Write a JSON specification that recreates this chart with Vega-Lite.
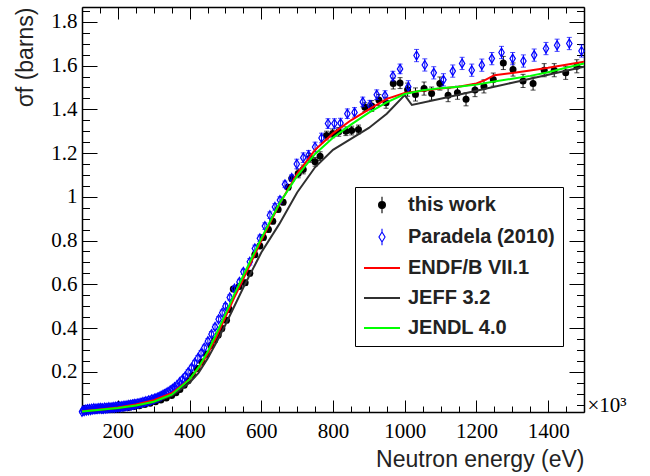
{
  "$schema": "https://vega.github.io/schema/vega-lite/v6.json",
  "width": 502,
  "height": 405,
  "autosize": {"type": "none"},
  "padding": {"left": 82, "top": 7, "right": 66, "bottom": 64},
  "background": "white",
  "config": {"view": {"stroke": null}},
  "datasets": {
    "work": [
      {"E":110,"s":0.021,"err":0.004,"series":"this work"},{"E":125,"s":0.023,"err":0.004,"series":"this work"},{"E":140,"s":0.025,"err":0.004,"series":"this work"},{"E":155,"s":0.026,"err":0.004,"series":"this work"},{"E":170,"s":0.028,"err":0.004,"series":"this work"},{"E":185,"s":0.030,"err":0.004,"series":"this work"},{"E":200,"s":0.032,"err":0.004,"series":"this work"},{"E":215,"s":0.034,"err":0.004,"series":"this work"},{"E":230,"s":0.037,"err":0.004,"series":"this work"},{"E":245,"s":0.041,"err":0.004,"series":"this work"},{"E":260,"s":0.045,"err":0.004,"series":"this work"},{"E":275,"s":0.050,"err":0.004,"series":"this work"},{"E":290,"s":0.056,"err":0.004,"series":"this work"},{"E":305,"s":0.063,"err":0.004,"series":"this work"},{"E":320,"s":0.071,"err":0.004,"series":"this work"},{"E":335,"s":0.080,"err":0.004,"series":"this work"},{"E":350,"s":0.092,"err":0.004,"series":"this work"},{"E":362,"s":0.104,"err":0.004,"series":"this work"},{"E":373,"s":0.119,"err":0.004,"series":"this work"},{"E":385,"s":0.138,"err":0.004,"series":"this work"},{"E":396,"s":0.159,"err":0.004,"series":"this work"},
      {"E":408,"s":0.185,"err":0.012,"series":"this work"},{"E":421,"s":0.215,"err":0.012,"series":"this work"},{"E":434,"s":0.245,"err":0.012,"series":"this work"},{"E":447,"s":0.28,"err":0.012,"series":"this work"},{"E":460,"s":0.32,"err":0.012,"series":"this work"},{"E":470,"s":0.345,"err":0.012,"series":"this work"},{"E":480,"s":0.368,"err":0.012,"series":"this work"},{"E":490,"s":0.398,"err":0.012,"series":"this work"},{"E":503,"s":0.436,"err":0.012,"series":"this work"},{"E":511,"s":0.485,"err":0.012,"series":"this work"},{"E":522,"s":0.578,"err":0.012,"series":"this work"},{"E":538,"s":0.59,"err":0.012,"series":"this work"},{"E":555,"s":0.607,"err":0.012,"series":"this work"},{"E":568,"s":0.65,"err":0.012,"series":"this work"},{"E":582,"s":0.735,"err":0.012,"series":"this work"},{"E":596,"s":0.775,"err":0.012,"series":"this work"},{"E":606,"s":0.814,"err":0.012,"series":"this work"},{"E":620,"s":0.85,"err":0.012,"series":"this work"},{"E":632,"s":0.888,"err":0.012,"series":"this work"},{"E":647,"s":0.942,"err":0.012,"series":"this work"},{"E":661,"s":0.975,"err":0.012,"series":"this work"},{"E":675,"s":1.044,"err":0.012,"series":"this work"},{"E":685,"s":1.084,"err":0.012,"series":"this work"},
      {"E":703,"s":1.107,"err":0.02,"series":"this work"},{"E":717,"s":1.125,"err":0.02,"series":"this work"},{"E":736,"s":1.178,"err":0.02,"series":"this work"},{"E":750,"s":1.16,"err":0.02,"series":"this work"},{"E":764,"s":1.186,"err":0.02,"series":"this work"},{"E":782,"s":1.28,"err":0.02,"series":"this work"},{"E":799,"s":1.29,"err":0.02,"series":"this work"},{"E":816,"s":1.297,"err":0.02,"series":"this work"},{"E":836,"s":1.30,"err":0.02,"series":"this work"},{"E":852,"s":1.303,"err":0.02,"series":"this work"},{"E":871,"s":1.308,"err":0.02,"series":"this work"},{"E":889,"s":1.41,"err":0.02,"series":"this work"},
      {"E":908,"s":1.415,"err":0.025,"series":"this work"},{"E":928,"s":1.443,"err":0.025,"series":"this work"},{"E":948,"s":1.43,"err":0.025,"series":"this work"},{"E":968,"s":1.518,"err":0.025,"series":"this work"},{"E":987,"s":1.52,"err":0.025,"series":"this work"},
      {"E":1008,"s":1.49,"err":0.03,"series":"this work"},{"E":1030,"s":1.468,"err":0.03,"series":"this work"},{"E":1054,"s":1.495,"err":0.03,"series":"this work"},{"E":1075,"s":1.472,"err":0.03,"series":"this work"},{"E":1098,"s":1.518,"err":0.03,"series":"this work"},{"E":1121,"s":1.465,"err":0.03,"series":"this work"},{"E":1147,"s":1.476,"err":0.03,"series":"this work"},{"E":1171,"s":1.446,"err":0.03,"series":"this work"},{"E":1196,"s":1.488,"err":0.03,"series":"this work"},{"E":1221,"s":1.505,"err":0.03,"series":"this work"},{"E":1247,"s":1.536,"err":0.03,"series":"this work"},{"E":1275,"s":1.612,"err":0.03,"series":"this work"},{"E":1302,"s":1.582,"err":0.03,"series":"this work"},{"E":1330,"s":1.53,"err":0.03,"series":"this work"},{"E":1358,"s":1.518,"err":0.03,"series":"this work"},{"E":1389,"s":1.579,"err":0.03,"series":"this work"},{"E":1417,"s":1.579,"err":0.03,"series":"this work"},{"E":1449,"s":1.567,"err":0.03,"series":"this work"},{"E":1480,"s":1.597,"err":0.03,"series":"this work"}
    ],
    "para": [
      {"E":100,"s":0.017,"err":0.007,"series":"Paradela (2010)"},{"E":103,"s":0.024,"err":0.007,"series":"Paradela (2010)"},{"E":106,"s":0.020,"err":0.007,"series":"Paradela (2010)"},{"E":109,"s":0.027,"err":0.007,"series":"Paradela (2010)"},{"E":112,"s":0.022,"err":0.007,"series":"Paradela (2010)"},{"E":115,"s":0.029,"err":0.007,"series":"Paradela (2010)"},{"E":118,"s":0.024,"err":0.007,"series":"Paradela (2010)"},{"E":121,"s":0.030,"err":0.007,"series":"Paradela (2010)"},{"E":124,"s":0.025,"err":0.007,"series":"Paradela (2010)"},{"E":127,"s":0.031,"err":0.007,"series":"Paradela (2010)"},{"E":130,"s":0.027,"err":0.007,"series":"Paradela (2010)"},{"E":133,"s":0.033,"err":0.007,"series":"Paradela (2010)"},{"E":136,"s":0.028,"err":0.007,"series":"Paradela (2010)"},{"E":139,"s":0.032,"err":0.007,"series":"Paradela (2010)"},{"E":142,"s":0.029,"err":0.007,"series":"Paradela (2010)"},{"E":145,"s":0.034,"err":0.007,"series":"Paradela (2010)"},{"E":148,"s":0.030,"err":0.007,"series":"Paradela (2010)"},{"E":151,"s":0.035,"err":0.007,"series":"Paradela (2010)"},{"E":154,"s":0.031,"err":0.007,"series":"Paradela (2010)"},{"E":157,"s":0.033,"err":0.007,"series":"Paradela (2010)"},{"E":160,"s":0.030,"err":0.007,"series":"Paradela (2010)"},{"E":163,"s":0.036,"err":0.007,"series":"Paradela (2010)"},{"E":166,"s":0.032,"err":0.007,"series":"Paradela (2010)"},{"E":169,"s":0.035,"err":0.007,"series":"Paradela (2010)"},{"E":172,"s":0.033,"err":0.007,"series":"Paradela (2010)"},{"E":175,"s":0.038,"err":0.007,"series":"Paradela (2010)"},{"E":178,"s":0.034,"err":0.007,"series":"Paradela (2010)"},{"E":181,"s":0.037,"err":0.007,"series":"Paradela (2010)"},{"E":184,"s":0.035,"err":0.007,"series":"Paradela (2010)"},{"E":187,"s":0.039,"err":0.007,"series":"Paradela (2010)"},{"E":190,"s":0.035,"err":0.007,"series":"Paradela (2010)"},{"E":193,"s":0.040,"err":0.007,"series":"Paradela (2010)"},{"E":196,"s":0.037,"err":0.007,"series":"Paradela (2010)"},{"E":199,"s":0.041,"err":0.007,"series":"Paradela (2010)"},{"E":202,"s":0.038,"err":0.007,"series":"Paradela (2010)"},{"E":205,"s":0.042,"err":0.007,"series":"Paradela (2010)"},{"E":208,"s":0.039,"err":0.007,"series":"Paradela (2010)"},{"E":211,"s":0.043,"err":0.007,"series":"Paradela (2010)"},{"E":214,"s":0.040,"err":0.007,"series":"Paradela (2010)"},{"E":217,"s":0.045,"err":0.007,"series":"Paradela (2010)"},{"E":220,"s":0.042,"err":0.007,"series":"Paradela (2010)"},{"E":223,"s":0.046,"err":0.007,"series":"Paradela (2010)"},{"E":226,"s":0.043,"err":0.007,"series":"Paradela (2010)"},{"E":229,"s":0.048,"err":0.007,"series":"Paradela (2010)"},{"E":232,"s":0.045,"err":0.007,"series":"Paradela (2010)"},{"E":235,"s":0.049,"err":0.007,"series":"Paradela (2010)"},{"E":238,"s":0.047,"err":0.007,"series":"Paradela (2010)"},{"E":241,"s":0.051,"err":0.007,"series":"Paradela (2010)"},{"E":244,"s":0.049,"err":0.007,"series":"Paradela (2010)"},{"E":247,"s":0.053,"err":0.007,"series":"Paradela (2010)"},{"E":250,"s":0.051,"err":0.007,"series":"Paradela (2010)"},{"E":254,"s":0.055,"err":0.007,"series":"Paradela (2010)"},{"E":258,"s":0.054,"err":0.007,"series":"Paradela (2010)"},{"E":262,"s":0.058,"err":0.007,"series":"Paradela (2010)"},{"E":266,"s":0.057,"err":0.007,"series":"Paradela (2010)"},{"E":270,"s":0.062,"err":0.007,"series":"Paradela (2010)"},{"E":274,"s":0.061,"err":0.007,"series":"Paradela (2010)"},{"E":278,"s":0.065,"err":0.007,"series":"Paradela (2010)"},{"E":282,"s":0.064,"err":0.007,"series":"Paradela (2010)"},{"E":286,"s":0.069,"err":0.007,"series":"Paradela (2010)"},{"E":290,"s":0.068,"err":0.007,"series":"Paradela (2010)"},{"E":294,"s":0.073,"err":0.007,"series":"Paradela (2010)"},{"E":298,"s":0.073,"err":0.007,"series":"Paradela (2010)"},{"E":302,"s":0.077,"err":0.007,"series":"Paradela (2010)"},{"E":306,"s":0.078,"err":0.007,"series":"Paradela (2010)"},{"E":310,"s":0.082,"err":0.007,"series":"Paradela (2010)"},{"E":314,"s":0.083,"err":0.007,"series":"Paradela (2010)"},{"E":318,"s":0.088,"err":0.007,"series":"Paradela (2010)"},{"E":322,"s":0.090,"err":0.007,"series":"Paradela (2010)"},{"E":326,"s":0.095,"err":0.007,"series":"Paradela (2010)"},{"E":330,"s":0.098,"err":0.007,"series":"Paradela (2010)"},{"E":335,"s":0.103,"err":0.007,"series":"Paradela (2010)"},{"E":340,"s":0.108,"err":0.007,"series":"Paradela (2010)"},{"E":346,"s":0.115,"err":0.007,"series":"Paradela (2010)"},{"E":352,"s":0.122,"err":0.007,"series":"Paradela (2010)"},{"E":358,"s":0.130,"err":0.007,"series":"Paradela (2010)"},{"E":365,"s":0.140,"err":0.007,"series":"Paradela (2010)"},{"E":372,"s":0.152,"err":0.007,"series":"Paradela (2010)"},
      {"E":380,"s":0.165,"err":0.012,"series":"Paradela (2010)"},{"E":388,"s":0.18,"err":0.012,"series":"Paradela (2010)"},{"E":396,"s":0.198,"err":0.012,"series":"Paradela (2010)"},{"E":405,"s":0.218,"err":0.012,"series":"Paradela (2010)"},{"E":414,"s":0.24,"err":0.012,"series":"Paradela (2010)"},{"E":423,"s":0.262,"err":0.012,"series":"Paradela (2010)"},{"E":432,"s":0.285,"err":0.012,"series":"Paradela (2010)"},{"E":441,"s":0.31,"err":0.012,"series":"Paradela (2010)"},{"E":451,"s":0.34,"err":0.012,"series":"Paradela (2010)"},{"E":461,"s":0.372,"err":0.012,"series":"Paradela (2010)"},{"E":471,"s":0.405,"err":0.012,"series":"Paradela (2010)"},{"E":481,"s":0.44,"err":0.012,"series":"Paradela (2010)"},{"E":491,"s":0.47,"err":0.012,"series":"Paradela (2010)"},{"E":500,"s":0.50,"err":0.012,"series":"Paradela (2010)"},{"E":512,"s":0.54,"err":0.012,"series":"Paradela (2010)"},{"E":525,"s":0.58,"err":0.012,"series":"Paradela (2010)"},{"E":539,"s":0.611,"err":0.012,"series":"Paradela (2010)"},{"E":550,"s":0.657,"err":0.012,"series":"Paradela (2010)"},{"E":568,"s":0.703,"err":0.015,"series":"Paradela (2010)"},{"E":582,"s":0.764,"err":0.015,"series":"Paradela (2010)"},{"E":596,"s":0.81,"err":0.015,"series":"Paradela (2010)"},{"E":610,"s":0.866,"err":0.015,"series":"Paradela (2010)"},{"E":624,"s":0.916,"err":0.015,"series":"Paradela (2010)"},{"E":638,"s":0.954,"err":0.015,"series":"Paradela (2010)"},{"E":652,"s":0.985,"err":0.015,"series":"Paradela (2010)"},{"E":666,"s":1.057,"err":0.015,"series":"Paradela (2010)"},{"E":685,"s":1.086,"err":0.015,"series":"Paradela (2010)"},
      {"E":699,"s":1.15,"err":0.022,"series":"Paradela (2010)"},{"E":717,"s":1.179,"err":0.022,"series":"Paradela (2010)"},{"E":732,"s":1.19,"err":0.022,"series":"Paradela (2010)"},{"E":750,"s":1.228,"err":0.022,"series":"Paradela (2010)"},{"E":768,"s":1.269,"err":0.022,"series":"Paradela (2010)"},{"E":786,"s":1.335,"err":0.022,"series":"Paradela (2010)"},{"E":804,"s":1.335,"err":0.022,"series":"Paradela (2010)"},{"E":821,"s":1.337,"err":0.022,"series":"Paradela (2010)"},{"E":840,"s":1.38,"err":0.022,"series":"Paradela (2010)"},{"E":860,"s":1.386,"err":0.022,"series":"Paradela (2010)"},{"E":883,"s":1.434,"err":0.022,"series":"Paradela (2010)"},{"E":903,"s":1.419,"err":0.022,"series":"Paradela (2010)"},{"E":922,"s":1.467,"err":0.022,"series":"Paradela (2010)"},{"E":945,"s":1.463,"err":0.022,"series":"Paradela (2010)"},{"E":967,"s":1.552,"err":0.022,"series":"Paradela (2010)"},{"E":987,"s":1.585,"err":0.022,"series":"Paradela (2010)"},
      {"E":1010,"s":1.503,"err":0.028,"series":"Paradela (2010)"},{"E":1033,"s":1.646,"err":0.028,"series":"Paradela (2010)"},{"E":1056,"s":1.603,"err":0.028,"series":"Paradela (2010)"},{"E":1081,"s":1.567,"err":0.028,"series":"Paradela (2010)"},{"E":1108,"s":1.535,"err":0.028,"series":"Paradela (2010)"},{"E":1134,"s":1.575,"err":0.028,"series":"Paradela (2010)"},{"E":1160,"s":1.61,"err":0.028,"series":"Paradela (2010)"},{"E":1187,"s":1.579,"err":0.028,"series":"Paradela (2010)"},{"E":1215,"s":1.602,"err":0.028,"series":"Paradela (2010)"},{"E":1243,"s":1.632,"err":0.028,"series":"Paradela (2010)"},{"E":1270,"s":1.66,"err":0.028,"series":"Paradela (2010)"},{"E":1301,"s":1.632,"err":0.028,"series":"Paradela (2010)"},{"E":1331,"s":1.621,"err":0.028,"series":"Paradela (2010)"},{"E":1361,"s":1.648,"err":0.028,"series":"Paradela (2010)"},{"E":1394,"s":1.678,"err":0.028,"series":"Paradela (2010)"},{"E":1425,"s":1.693,"err":0.028,"series":"Paradela (2010)"},{"E":1459,"s":1.701,"err":0.028,"series":"Paradela (2010)"},{"E":1493,"s":1.667,"err":0.028,"series":"Paradela (2010)"}
    ],
    "curves": [
      {"E":100,"s":0.018,"series":"JEFF 3.2"},{"E":150,"s":0.025,"series":"JEFF 3.2"},{"E":200,"s":0.033,"series":"JEFF 3.2"},{"E":250,"s":0.045,"series":"JEFF 3.2"},{"E":300,"s":0.062,"series":"JEFF 3.2"},{"E":350,"s":0.09,"series":"JEFF 3.2"},{"E":400,"s":0.15,"series":"JEFF 3.2"},{"E":425,"s":0.195,"series":"JEFF 3.2"},{"E":450,"s":0.26,"series":"JEFF 3.2"},{"E":475,"s":0.335,"series":"JEFF 3.2"},{"E":500,"s":0.415,"series":"JEFF 3.2"},{"E":550,"s":0.585,"series":"JEFF 3.2"},{"E":600,"s":0.745,"series":"JEFF 3.2"},{"E":650,"s":0.875,"series":"JEFF 3.2"},{"E":700,"s":1.02,"series":"JEFF 3.2"},{"E":750,"s":1.135,"series":"JEFF 3.2"},{"E":800,"s":1.215,"series":"JEFF 3.2"},{"E":850,"s":1.265,"series":"JEFF 3.2"},{"E":900,"s":1.315,"series":"JEFF 3.2"},{"E":950,"s":1.38,"series":"JEFF 3.2"},{"E":1000,"s":1.465,"series":"JEFF 3.2"},{"E":1020,"s":1.42,"series":"JEFF 3.2"},{"E":1100,"s":1.448,"series":"JEFF 3.2"},{"E":1200,"s":1.485,"series":"JEFF 3.2"},{"E":1300,"s":1.522,"series":"JEFF 3.2"},{"E":1400,"s":1.558,"series":"JEFF 3.2"},{"E":1500,"s":1.595,"series":"JEFF 3.2"},
      {"E":100,"s":0.02,"series":"ENDF/B VII.1"},{"E":150,"s":0.028,"series":"ENDF/B VII.1"},{"E":200,"s":0.037,"series":"ENDF/B VII.1"},{"E":250,"s":0.05,"series":"ENDF/B VII.1"},{"E":300,"s":0.07,"series":"ENDF/B VII.1"},{"E":350,"s":0.102,"series":"ENDF/B VII.1"},{"E":400,"s":0.165,"series":"ENDF/B VII.1"},{"E":425,"s":0.215,"series":"ENDF/B VII.1"},{"E":450,"s":0.28,"series":"ENDF/B VII.1"},{"E":475,"s":0.36,"series":"ENDF/B VII.1"},{"E":500,"s":0.45,"series":"ENDF/B VII.1"},{"E":525,"s":0.54,"series":"ENDF/B VII.1"},{"E":550,"s":0.625,"series":"ENDF/B VII.1"},{"E":600,"s":0.80,"series":"ENDF/B VII.1"},{"E":650,"s":0.965,"series":"ENDF/B VII.1"},{"E":700,"s":1.105,"series":"ENDF/B VII.1"},{"E":750,"s":1.215,"series":"ENDF/B VII.1"},{"E":800,"s":1.29,"series":"ENDF/B VII.1"},{"E":850,"s":1.35,"series":"ENDF/B VII.1"},{"E":900,"s":1.40,"series":"ENDF/B VII.1"},{"E":950,"s":1.448,"series":"ENDF/B VII.1"},{"E":1000,"s":1.475,"series":"ENDF/B VII.1"},{"E":1050,"s":1.485,"series":"ENDF/B VII.1"},{"E":1100,"s":1.495,"series":"ENDF/B VII.1"},{"E":1150,"s":1.503,"series":"ENDF/B VII.1"},{"E":1200,"s":1.518,"series":"ENDF/B VII.1"},{"E":1225,"s":1.535,"series":"ENDF/B VII.1"},{"E":1250,"s":1.556,"series":"ENDF/B VII.1"},{"E":1300,"s":1.566,"series":"ENDF/B VII.1"},{"E":1350,"s":1.578,"series":"ENDF/B VII.1"},{"E":1400,"s":1.59,"series":"ENDF/B VII.1"},{"E":1450,"s":1.604,"series":"ENDF/B VII.1"},{"E":1500,"s":1.618,"series":"ENDF/B VII.1"},
      {"E":100,"s":0.018,"series":"JENDL 4.0"},{"E":150,"s":0.026,"series":"JENDL 4.0"},{"E":200,"s":0.034,"series":"JENDL 4.0"},{"E":250,"s":0.046,"series":"JENDL 4.0"},{"E":300,"s":0.063,"series":"JENDL 4.0"},{"E":350,"s":0.095,"series":"JENDL 4.0"},{"E":400,"s":0.165,"series":"JENDL 4.0"},{"E":425,"s":0.22,"series":"JENDL 4.0"},{"E":450,"s":0.29,"series":"JENDL 4.0"},{"E":475,"s":0.375,"series":"JENDL 4.0"},{"E":500,"s":0.465,"series":"JENDL 4.0"},{"E":525,"s":0.555,"series":"JENDL 4.0"},{"E":550,"s":0.64,"series":"JENDL 4.0"},{"E":600,"s":0.81,"series":"JENDL 4.0"},{"E":650,"s":0.968,"series":"JENDL 4.0"},{"E":700,"s":1.095,"series":"JENDL 4.0"},{"E":750,"s":1.196,"series":"JENDL 4.0"},{"E":800,"s":1.27,"series":"JENDL 4.0"},{"E":850,"s":1.33,"series":"JENDL 4.0"},{"E":900,"s":1.385,"series":"JENDL 4.0"},{"E":950,"s":1.432,"series":"JENDL 4.0"},{"E":1000,"s":1.47,"series":"JENDL 4.0"},{"E":1050,"s":1.487,"series":"JENDL 4.0"},{"E":1100,"s":1.497,"series":"JENDL 4.0"},{"E":1150,"s":1.503,"series":"JENDL 4.0"},{"E":1200,"s":1.513,"series":"JENDL 4.0"},{"E":1250,"s":1.527,"series":"JENDL 4.0"},{"E":1300,"s":1.54,"series":"JENDL 4.0"},{"E":1350,"s":1.553,"series":"JENDL 4.0"},{"E":1400,"s":1.57,"series":"JENDL 4.0"},{"E":1450,"s":1.59,"series":"JENDL 4.0"},{"E":1500,"s":1.61,"series":"JENDL 4.0"}
    ]
  },
  "resolve": {"axis": {"x": "independent", "y": "independent"}},
  "layer": [
    {
      "data": {"name": "work"},
      "mark": {"type": "errorbar", "ticks": {"size": 5}, "rule": {"strokeWidth": 1}},
      "encoding": {
        "x": {"field": "E", "type": "quantitative", "scale": {"domain": [100, 1500], "nice": false, "zero": false}, "axis": null},
        "y": {"field": "s", "type": "quantitative", "scale": {"domain": [0.016, 1.868], "nice": false, "zero": false}, "axis": null},
        "yError": {"field": "err"},
        "color": {
          "field": "series", "type": "nominal",
          "scale": {"domain": ["this work", "Paradela (2010)", "ENDF/B VII.1", "JEFF 3.2", "JENDL 4.0"], "range": ["#000000", "#0000ff", "#ff0000", "#303030", "#00ff00"]},
          "legend": {
            "orient": "none", "legendX": 273, "legendY": 180, "title": null,
            "padding": 8, "rowPadding": 10, "labelOffset": 16, "symbolOffset": 9,
            "labelFont": "Liberation Sans", "labelFontWeight": "bold", "labelFontSize": 20, "labelColor": "#222222", "labelLimit": 400,
            "symbolSize": 1296, "symbolOpacity": 1, "fillColor": "white", "strokeColor": "black",
            "encode": {
              "symbols": {"update": {
                "size": {"value": 1296},
                "opacity": {"value": 1},
                "shape": {"signal": "datum.value === 'this work' ? 'M-0.19,0A0.19,0.19 0 1,0 0.19,0A0.19,0.19 0 1,0 -0.19,0ZM0,-0.46L0,0.46' : (datum.value === 'Paradela (2010)' ? 'M0,-0.28L0.17,0L0,0.28L-0.17,0ZM0,-0.46L0,-0.28M0,0.28L0,0.46' : 'M-1,0L1,0')"},
                "fill": {"signal": "datum.value === 'this work' ? '#000000' : 'white'"},
                "fillOpacity": {"signal": "datum.value === 'this work' ? 1 : 0"},
                "stroke": {"signal": "datum.value === 'this work' ? '#000000' : (datum.value === 'Paradela (2010)' ? '#0000ff' : (datum.value === 'ENDF/B VII.1' ? '#ff0000' : (datum.value === 'JEFF 3.2' ? '#303030' : '#00ff00')))"},
                "strokeOpacity": {"value": 1},
                "strokeWidth": {"signal": "(datum.value === 'this work' || datum.value === 'Paradela (2010)') ? 1.1 : 2"}
              }}
            }
          }
        }
      }
    },
    {
      "data": {"name": "work"},
      "mark": {"type": "point", "shape": "circle", "filled": true, "size": 49, "opacity": 1},
      "encoding": {
        "x": {"field": "E", "type": "quantitative", "scale": {"domain": [100, 1500], "nice": false, "zero": false},
          "axis": {"orient": "bottom", "values": [100,150,200,250,300,350,400,450,500,550,600,650,700,750,800,850,900,950,1000,1050,1100,1150,1200,1250,1300,1350,1400,1450,1500],
            "format": "d",
            "tickSize": -12,
            "tickDash": {"condition": {"test": "datum.value % 200 === 0", "value": [100, 1]}, "value": [6, 100]},
            "labelExpr": "datum.value % 200 === 0 ? datum.label : ''",
            "labelFont": "Liberation Serif", "labelFontSize": 21, "labelColor": "black", "labelPadding": 20, "labelOverlap": false, "labelFlush": false,
            "domainColor": "black", "domainWidth": 1.5, "tickColor": "black", "tickWidth": 1, "grid": false,
            "title": "Neutron energy (eV)", "titleFont": "Liberation Sans", "titleFontSize": 23, "titleFontWeight": "normal", "titleColor": "#222222", "titleAnchor": "end", "titlePadding": 7}},
        "y": {"field": "s", "type": "quantitative", "scale": {"domain": [0.016, 1.868], "nice": false, "zero": false},
          "axis": {"orient": "left", "values": [0.05,0.1,0.15,0.2,0.25,0.3,0.35,0.4,0.45,0.5,0.55,0.6,0.65,0.7,0.75,0.8,0.85,0.9,0.95,1,1.05,1.1,1.15,1.2,1.25,1.3,1.35,1.4,1.45,1.5,1.55,1.6,1.65,1.7,1.75,1.8,1.85],
            "format": "~g",
            "tickSize": -15,
            "tickDash": {"condition": {"test": "abs(datum.value*5 - round(datum.value*5)) < 0.001", "value": [100, 1]}, "value": [7.5, 100]},
            "labelExpr": "abs(datum.value*5 - round(datum.value*5)) < 0.001 ? datum.label : ''",
            "labelFont": "Liberation Serif", "labelFontSize": 21, "labelColor": "black", "labelPadding": 20, "labelOverlap": false, "labelFlush": false,
            "domainColor": "black", "domainWidth": 1.5, "tickColor": "black", "tickWidth": 1, "grid": false,
            "title": "σf (barns)", "titleFont": "Liberation Sans", "titleFontSize": 23, "titleFontWeight": "normal", "titleColor": "#222222", "titleAnchor": "end", "titlePadding": 13}},
        "color": {"field": "series", "type": "nominal"}
      }
    },
    {
      "data": {"name": "para"},
      "mark": {"type": "errorbar", "ticks": {"size": 5}, "rule": {"strokeWidth": 1}},
      "encoding": {
        "x": {"field": "E", "type": "quantitative", "axis": null},
        "y": {"field": "s", "type": "quantitative", "axis": null},
        "yError": {"field": "err"},
        "color": {"field": "series", "type": "nominal"}
      }
    },
    {
      "data": {"name": "para"},
      "mark": {"type": "point", "shape": "M0,-1L0.6,0L0,1L-0.6,0Z", "filled": false, "size": 81, "strokeWidth": 1.2, "opacity": 1},
      "encoding": {
        "x": {"field": "E", "type": "quantitative",
          "axis": {"orient": "top", "values": [100,150,200,250,300,350,400,450,500,550,600,650,700,750,800,850,900,950,1000,1050,1100,1150,1200,1250,1300,1350,1400,1450,1500],
            "tickSize": -12,
            "tickDash": {"condition": {"test": "datum.value % 200 === 0", "value": [100, 1]}, "value": [6, 100]},
            "labels": false, "domainColor": "black", "domainWidth": 1.5, "tickColor": "black", "tickWidth": 1, "grid": false, "title": null}},
        "y": {"field": "s", "type": "quantitative",
          "axis": {"orient": "right", "values": [0.05,0.1,0.15,0.2,0.25,0.3,0.35,0.4,0.45,0.5,0.55,0.6,0.65,0.7,0.75,0.8,0.85,0.9,0.95,1,1.05,1.1,1.15,1.2,1.25,1.3,1.35,1.4,1.45,1.5,1.55,1.6,1.65,1.7,1.75,1.8,1.85],
            "tickSize": -15,
            "tickDash": {"condition": {"test": "abs(datum.value*5 - round(datum.value*5)) < 0.001", "value": [100, 1]}, "value": [7.5, 100]},
            "labels": false, "domainColor": "black", "domainWidth": 1.5, "tickColor": "black", "tickWidth": 1, "grid": false,
            "title": "×10³", "titleAngle": 0, "titleX": 3, "titleY": 398, "titleAlign": "left", "titleBaseline": "middle",
            "titleFont": "Liberation Serif", "titleFontSize": 21, "titleFontWeight": "normal", "titleColor": "black"}},
        "color": {"field": "series", "type": "nominal"}
      }
    },
    {
      "data": {"name": "curves"},
      "transform": [{"filter": "datum.series === 'JEFF 3.2'"}],
      "mark": {"type": "line", "strokeWidth": 2},
      "encoding": {
        "x": {"field": "E", "type": "quantitative", "axis": null},
        "y": {"field": "s", "type": "quantitative", "axis": null},
        "color": {"field": "series", "type": "nominal"}
      }
    },
    {
      "data": {"name": "curves"},
      "transform": [{"filter": "datum.series === 'ENDF/B VII.1'"}],
      "mark": {"type": "line", "strokeWidth": 2},
      "encoding": {
        "x": {"field": "E", "type": "quantitative", "axis": null},
        "y": {"field": "s", "type": "quantitative", "axis": null},
        "color": {"field": "series", "type": "nominal"}
      }
    },
    {
      "data": {"name": "curves"},
      "transform": [{"filter": "datum.series === 'JENDL 4.0'"}],
      "mark": {"type": "line", "strokeWidth": 2},
      "encoding": {
        "x": {"field": "E", "type": "quantitative", "axis": null},
        "y": {"field": "s", "type": "quantitative", "axis": null},
        "color": {"field": "series", "type": "nominal"}
      }
    }
  ]
}
